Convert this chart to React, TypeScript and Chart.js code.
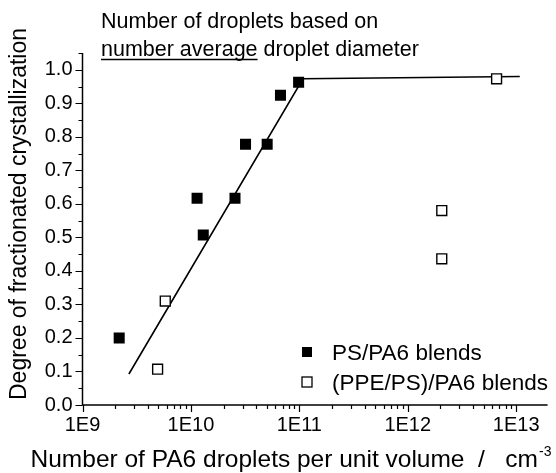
import React, { useEffect, useRef } from "react";
import { Chart, registerables } from "chart.js";

Chart.register(...registerables);

// ---- data ----
const psX = [2.18e9, 1.14e10, 1.3e10, 2.55e10, 3.19e10, 5.05e10, 6.7e10, 9.85e10];
const psY = [0.2, 0.617, 0.507, 0.617, 0.778, 0.778, 0.924, 0.963];

const ppeX = [4.93e9, 5.8e9, 2.06e12, 2.06e12, 6.6e12];
const ppeY = [0.107, 0.31, 0.58, 0.436, 0.973];

const fitX = [2.68e9, 1.08e11, 1.08e13];
const fitY = [0.0925, 0.973, 0.98];

const xMajorTicks = [1e9, 1e10, 1e11, 1e12, 1e13];
const yTicks = [0, 0.1, 0.2, 0.3, 0.4, 0.5, 0.6, 0.7, 0.8, 0.9, 1.0];

const legendLabels = ["PS/PA6 blends", "(PPE/PS)/PA6 blends"];
const titleLine1 = "Number of droplets based on";
const titleLine2Underlined = "number average";
const titleLine2Rest = " droplet diameter";
const yTitle = "Degree of fractionated crystallization";
const xTitle = "Number of PA6 droplets per unit volume  /   cm";
const xTitleSup = "-3";

const FONT = '"Liberation Sans", Arial, Helvetica, sans-serif';

const toPts = (xs: number[], ys: number[]) => xs.map((x, i) => ({ x, y: ys[i] }));

const decoPlugin = {
  id: "deco",
  beforeDatasetsDraw(chart: any) {
    const ctx = chart.ctx;
    const xs = chart.scales.x;
    const ys = chart.scales.y;
    const { left, right, top, bottom } = chart.chartArea;
    ctx.save();
    ctx.strokeStyle = "#000";
    ctx.lineWidth = 1.5;
    ctx.beginPath();
    ctx.moveTo(left, top);
    ctx.lineTo(left, bottom);
    ctx.lineTo(right, bottom);
    ctx.stroke();
    ctx.lineWidth = 1.2;
    ctx.beginPath();
    for (let e = 9; e <= 13; e++) {
      for (let m = 1; m <= 9; m++) {
        const v = m * Math.pow(10, e);
        if (v > xs.max) continue;
        const px = Math.round(xs.getPixelForValue(v)) + 0.5;
        const len = m === 1 ? 7 : 4;
        ctx.moveTo(px, bottom);
        ctx.lineTo(px, bottom + len);
      }
    }
    for (let i = 0; i <= 21; i++) {
      const v = i * 0.05;
      if (v > ys.max + 1e-9) continue;
      const py = Math.round(ys.getPixelForValue(v)) + 0.5;
      const len = i % 2 === 0 ? 7 : 4;
      ctx.moveTo(left, py);
      ctx.lineTo(left - len, py);
    }
    ctx.stroke();
    ctx.restore();
  },
  afterDraw(chart: any) {
    const ctx = chart.ctx;
    ctx.save();
    ctx.fillStyle = "#000";
    ctx.strokeStyle = "#000";
    ctx.textBaseline = "alphabetic";
    ctx.textAlign = "left";
    // title
    ctx.font = `21.5px ${FONT}`;
    const tx = 101;
    ctx.fillText(titleLine1, tx, 28);
    ctx.fillText(titleLine2Underlined, tx, 56);
    const uw = ctx.measureText(titleLine2Underlined).width;
    ctx.fillText(titleLine2Rest, tx + uw, 56);
    ctx.lineWidth = 1.5;
    ctx.beginPath();
    ctx.moveTo(tx, 59.5);
    ctx.lineTo(tx + uw, 59.5);
    ctx.stroke();

    // y title
    ctx.save();
    ctx.translate(26, 214);
    ctx.rotate(-Math.PI / 2);
    ctx.textAlign = "center";
    ctx.font = `23px ${FONT}`;
    ctx.fillText(yTitle, 0, 0);
    ctx.restore();

    // x title
    ctx.font = `24.5px ${FONT}`;
    ctx.textAlign = "left";
    const xw = ctx.measureText(xTitle).width;
    const xStart = 538 - xw;
    ctx.fillText(xTitle, xStart, 467);
    ctx.font = `14px ${FONT}`;
    ctx.fillText(xTitleSup, xStart + xw + 1, 456);

    // legend
    ctx.font = `22.5px ${FONT}`;
    const lx = 307;
    const rows = [352, 382];
    legendLabels.forEach((d: string, i: number) => {
      const y = rows[i];
      const s = 10;
      if (i === 0) {
        ctx.fillStyle = "#000";
        ctx.fillRect(lx - s / 2, y - s / 2, s, s);
      } else {
        ctx.lineWidth = 1.3;
        ctx.strokeRect(lx - s / 2, y - s / 2, s, s);
      }
      ctx.fillStyle = "#000";
      ctx.fillText(d, 332, y + 8);
    });
    ctx.restore();
  },
};

export default function App() {
  const ref = useRef<HTMLCanvasElement | null>(null);
  useEffect(() => {
    if (!ref.current) return;
    const chart = new Chart(ref.current, {
      type: "scatter",
      data: {
        datasets: [
          {
            label: "fit",
            data: toPts(fitX, fitY),
            showLine: true,
            borderColor: "#000",
            borderWidth: 1.6,
            pointRadius: 0,
            order: 3,
          },
          {
            label: legendLabels[0],
            data: toPts(psX, psY),
            pointStyle: "rect",
            pointRadius: 7.8,
            backgroundColor: "#000",
            borderColor: "#000",
            borderWidth: 0,
            order: 1,
          },
          {
            label: legendLabels[1],
            data: toPts(ppeX, ppeY),
            pointStyle: "rect",
            pointRadius: 7,
            backgroundColor: "#fff",
            borderColor: "#000",
            borderWidth: 1.4,
            order: 2,
          },
        ],
      },
      options: {
        responsive: false,
        maintainAspectRatio: false,
        animation: false,
        layout: { padding: { left: 0, top: 53, right: 8, bottom: 0 } },
        plugins: { legend: { display: false }, tooltip: { enabled: false } },
        scales: {
          x: {
            type: "logarithmic",
            min: 1e9,
            max: 1.95e13,
            grid: { display: false, drawTicks: false },
            border: { display: false },
            afterBuildTicks: (s: any) => {
              s.ticks = xMajorTicks.map((v) => ({ value: v, major: true }));
            },
            afterFit: (s: any) => {
              s.height = 68;
            },
            ticks: {
              autoSkip: false,
              maxRotation: 0,
              padding: 8,
              color: "#000",
              font: { family: FONT, size: 20 },
              callback: (v: any) => `1E${Math.round(Math.log10(Number(v)))}`,
            },
          },
          y: {
            min: 0,
            max: 1.05,
            grid: { display: false, drawTicks: false },
            border: { display: false },
            afterBuildTicks: (s: any) => {
              s.ticks = yTicks.map((v) => ({ value: v }));
            },
            afterFit: (s: any) => {
              s.width = 82.5;
            },
            ticks: {
              autoSkip: false,
              padding: 10,
              color: "#000",
              font: { family: FONT, size: 20 },
              callback: (v: any) => Number(v).toFixed(1),
            },
          },
        },
      },
      plugins: [decoPlugin],
    } as any);
    return () => chart.destroy();
  }, []);
  return (
    <div style={{ position: "fixed", left: 0, top: 0, width: 556, height: 473, background: "#fff" }}>
      <canvas ref={ref} width={556} height={473} style={{ display: "block" }} />
    </div>
  );
}
